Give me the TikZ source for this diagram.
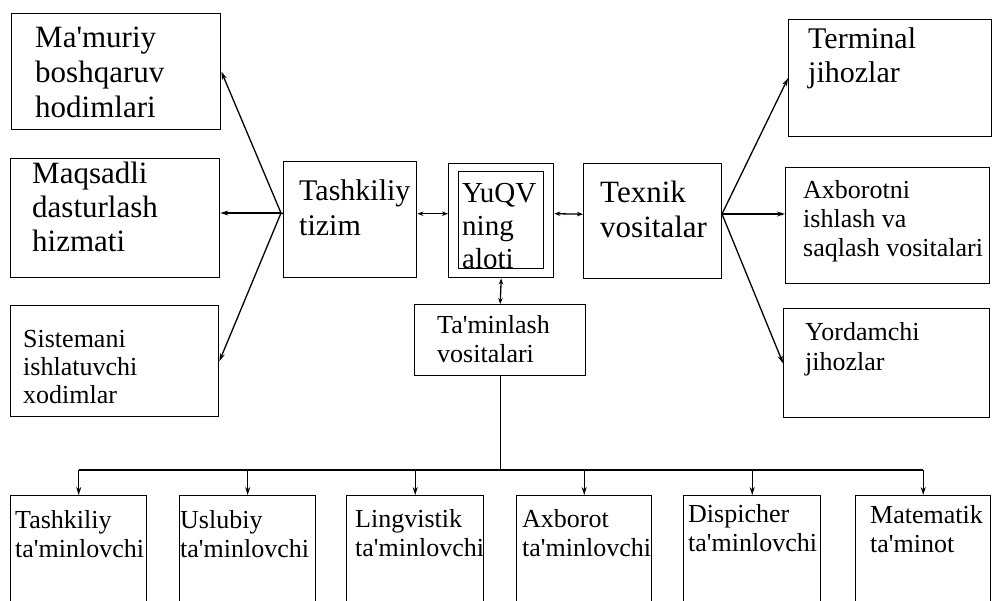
\documentclass[tikz,border=0pt]{standalone}
\usepackage{fontspec}
\setmainfont{Liberation Serif}[Ligatures=TeXOff]
\usetikzlibrary{arrows.meta}
\begin{document}
\begin{tikzpicture}[x=1pt,y=-1pt,
  box/.style={draw=black, line width=1.4pt, inner sep=0pt, anchor=north west},
  txt/.style={anchor=north west, inner sep=0pt, align=left, text=black},
  arr/.style={line width=1.3pt, -{Stealth[length=8pt,width=5pt]}},
  darr/.style={line width=1.3pt, {Stealth[length=6pt,width=4.5pt]}-{Stealth[length=6pt,width=4.5pt]}},
  link/.style={line width=1.3pt}]
\fill[white] (0,0) rectangle (993,601);
\clip (0,0) rectangle (993,601);
% left boxes
\node[box, minimum width=209pt, minimum height=116pt] (mam) at (11,13) {};
\node[box, minimum width=209pt, minimum height=119pt] (maq) at (10,158) {};
\node[box, minimum width=208pt, minimum height=111pt] (sis) at (10,305) {};
% centre boxes
\node[box, minimum width=133pt, minimum height=116pt] (tash) at (283,161) {};
\node[box, minimum width=105pt, minimum height=114pt] (yuqv) at (448,163) {};
\node[box, minimum width=85pt, minimum height=97pt] (yuqvin) at (458,171) {};
\node[box, minimum width=138pt, minimum height=115pt] (tex) at (583,163) {};
\node[box, minimum width=171pt, minimum height=71pt] (tam) at (414,304) {};
% right boxes
\node[box, minimum width=203pt, minimum height=117pt] (term) at (788,19) {};
\node[box, minimum width=204pt, minimum height=116pt] (axb) at (785,167) {};
\node[box, minimum width=206pt, minimum height=109pt] (yor) at (783,308) {};
% bottom boxes
\node[box, minimum width=136pt, minimum height=130pt] (b1) at (10,495) {};
\node[box, minimum width=136pt, minimum height=130pt] (b2) at (179,495) {};
\node[box, minimum width=137pt, minimum height=130pt] (b3) at (346,495) {};
\node[box, minimum width=135pt, minimum height=130pt] (b4) at (516,495) {};
\node[box, minimum width=137pt, minimum height=130pt] (b5) at (683,495) {};
\node[box, minimum width=135pt, minimum height=130pt] (b6) at (855,495) {};
% texts
\node[txt, font=\fontsize{31}{35}\selectfont] (mamt) at (35,22.5) {\strut Ma'muriy\\boshqaruv\\hodimlari};
\node[txt, font=\fontsize{31}{34}\selectfont] (maqt) at (32,159.2) {\strut Maqsadli\\dasturlash\\hizmati};
\node[txt, font=\fontsize{26}{28}\selectfont] (sist) at (23,327.4) {\strut Sistemani\\ishlatuvchi\\xodimlar};
\node[txt, font=\fontsize{30}{35}\selectfont] (tasht) at (299,175.5) {\strut Tashkiliy\\tizim};
\node[txt, font=\fontsize{29}{33}\selectfont] (yuqvt) at (462,178.9) {\strut YuQV\\ning\\aloti};
\node[txt, font=\fontsize{31}{35}\selectfont] (text) at (600,177.5) {\strut Texnik\\vositalar};
\node[txt, font=\fontsize{26}{29}\selectfont] (tamt) at (437,312.7) {\strut Ta'minlash\\vositalari};
\node[txt, font=\fontsize{30}{34}\selectfont] (termt) at (808,24.2) {\strut Terminal\\jihozlar};
\node[txt, font=\fontsize{26}{29}\selectfont] (axbt) at (803,177.7) {\strut Axborotni\\ishlash va\\saqlash vositalari};
\node[txt, font=\fontsize{26}{30}\selectfont] (yort) at (805,319) {\strut Yordamchi\\jihozlar};
\node[txt, font=\fontsize{26}{29}\selectfont] (b1t) at (15,507.7) {\strut Tashkiliy\\ta'minlovchi};
\node[txt, font=\fontsize{26}{29}\selectfont] (b2t) at (180,507.7) {\strut Uslubiy\\ta'minlovchi};
\node[txt, font=\fontsize{26}{29}\selectfont] (b3t) at (355,506.7) {\strut Lingvistik\\ta'minlovchi};
\node[txt, font=\fontsize{26}{29}\selectfont] (b4t) at (522,506.7) {\strut Axborot\\ta'minlovchi};
\node[txt, font=\fontsize{26}{29}\selectfont] (b5t) at (688,501.7) {\strut Dispicher\\ta'minlovchi};
\node[txt, font=\fontsize{26}{29}\selectfont] (b6t) at (870,502.7) {\strut Matematik\\ta'minot};
% connectors left
\coordinate (lc) at (281,213);
\draw[arr] (lc) -- (mam.east);
\draw[arr] (lc) -- (maq.east |- lc);
\draw[arr] (lc) -- (sis.east);
\draw[link] (lc) -- ([yshift=6pt]tash.west);
% centre
\draw[darr] ([yshift=6pt]tash.east) -- ([yshift=7pt]yuqv.west);
\draw[darr] ([yshift=7pt]yuqv.east) -- ([yshift=7pt]tex.west);
\draw[darr] (yuqv.south) -- (tam.north);
% right
\coordinate (rc) at (722,214);
\draw[arr] (rc) -- (term.west);
\draw[arr] (rc) -- (axb.west |- rc);
\draw[arr] (rc) -- (yor.west);
% bottom bus
\coordinate (busy) at (0,470);
\draw[link] (tam.south) -- (tam.south |- busy);
\draw[link] (b1.north |- busy) -- (b6.north |- busy);
\foreach \b in {b1,b2,b3,b4,b5,b6}{
  \draw[arr] (\b.north |- busy) -- (\b.north);
}
\end{tikzpicture}
\end{document}
